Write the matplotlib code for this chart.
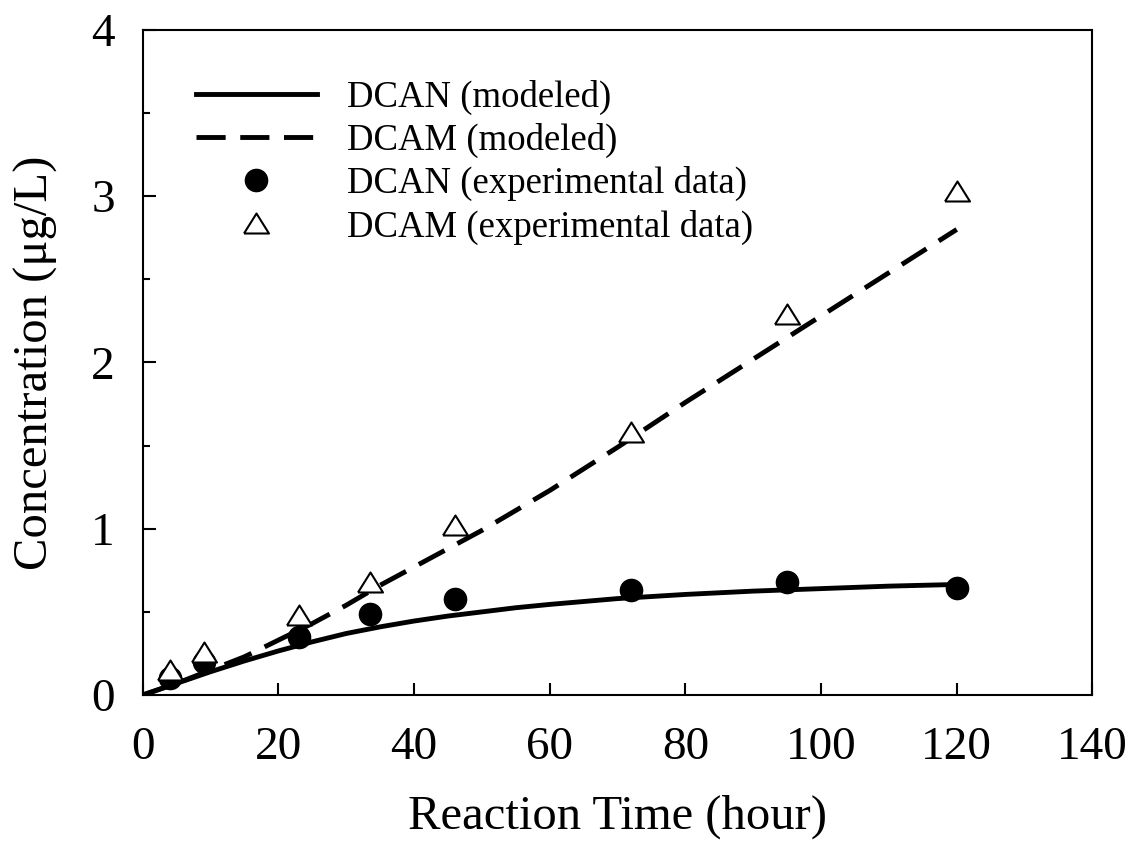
import numpy as np
import matplotlib.pyplot as plt
from matplotlib.ticker import MultipleLocator

# measured concentrations (ug/L) vs reaction time (h)
t_exp = [4, 9, 23, 33.5, 46, 72, 95, 120]
dcan_exp = [0.10, 0.20, 0.35, 0.49, 0.58, 0.63, 0.68, 0.645]
dcam_exp = [0.15, 0.26, 0.48, 0.68, 1.02, 1.58, 2.29, 3.03]

# model output
t_mod = [0, 5, 10, 15, 20, 25, 30, 35, 40, 45, 50, 55, 60, 70, 80, 90, 100, 110, 120]
dcan_mod = [0, 0.07, 0.14, 0.205, 0.265, 0.32, 0.37, 0.41, 0.445, 0.475, 0.50,
            0.525, 0.545, 0.58, 0.605, 0.625, 0.64, 0.655, 0.665]
dcam_mod = [0, 0.07, 0.15, 0.23, 0.33, 0.43, 0.54, 0.66, 0.77, 0.88, 0.99,
            1.11, 1.23, 1.49, 1.76, 2.02, 2.28, 2.54, 2.80]

plt.rcParams['font.family'] = ['Liberation Serif', 'DejaVu Serif']

# open triangle, a bit wider than tall
tri = [(-1.25, -1), (1.25, -1), (0, 1), (-1.25, -1)]

fig = plt.figure(figsize=(11.32, 8.44), dpi=100)
ax = fig.add_axes([0.126, 0.1765, 0.839, 0.788])

ax.plot(t_mod, dcan_mod, color='black', lw=3.5, label='DCAN (modeled)')
ax.plot(t_mod, dcam_mod, color='black', lw=3.5, dashes=(6, 3), label='DCAM (modeled)')
ax.plot(t_exp, dcan_exp, 'o', color='black', ms=16, ls='none', label='DCAN (experimental data)')
ax.plot(t_exp, dcam_exp, marker=tri, mfc='white', mec='black', mew=1.5, ms=18, ls='none',
        label='DCAM (experimental data)')

ax.set_xlim(0, 140)
ax.set_ylim(0, 4)
ax.xaxis.set_major_locator(MultipleLocator(20))
ax.yaxis.set_major_locator(MultipleLocator(1))
ax.yaxis.set_minor_locator(MultipleLocator(0.5))
ax.tick_params(which='both', direction='in', width=1.5, labelsize=34)
ax.tick_params(which='major', length=9)
ax.tick_params(which='minor', length=5)
ax.tick_params(axis='x', pad=23)
ax.tick_params(axis='y', pad=20)
for s in ax.spines.values():
    s.set_linewidth(1.5)

ax.set_xlabel('Reaction Time (hour)', fontsize=35, labelpad=18)
ax.set_ylabel('Concentration (\u03bcg/L)', fontsize=35, labelpad=24)

ax.legend(loc='upper left', bbox_to_anchor=(0.021, 0.975), frameon=False, fontsize=26.5,
          handlelength=3.3, handletextpad=0.8, labelspacing=0.22)

fig.savefig('out.png', dpi=100)
